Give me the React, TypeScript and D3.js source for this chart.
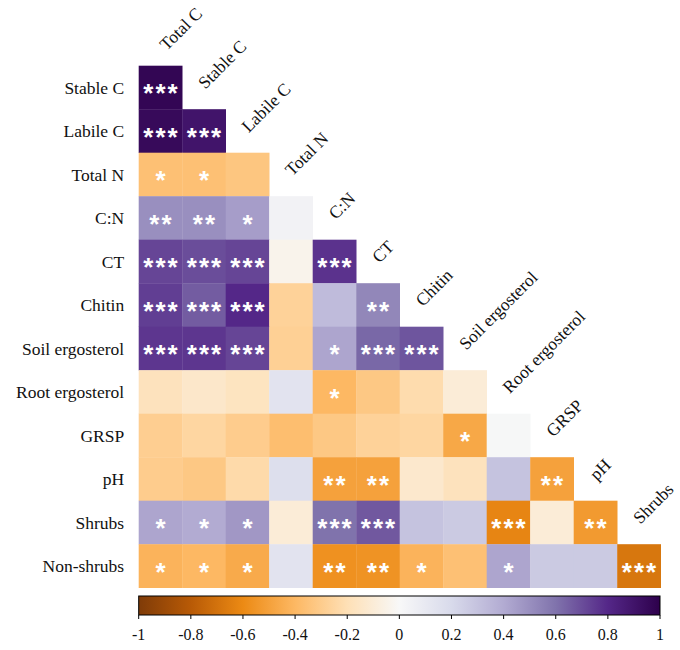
import React from "react";
import * as d3 from "d3";

// Variables of the correlation matrix (lower triangle, diagonal omitted)
const columnVars = [
  "Total C", "Stable C", "Labile C", "Total N", "C:N", "CT", "Chitin",
  "Soil ergosterol", "Root ergosterol", "GRSP", "pH", "Shrubs",
];
const rowVars = [
  "Stable C", "Labile C", "Total N", "C:N", "CT", "Chitin", "Soil ergosterol",
  "Root ergosterol", "GRSP", "pH", "Shrubs", "Non-shrubs",
];

// Pearson r per row, one value per column up to the diagonal
const corrStableC = [0.97];
const corrLabileC = [0.95, 0.9];
const corrTotalN = [-0.36, -0.36, -0.33];
const corrCN = [0.5, 0.5, 0.45, 0.04];
const corrCT = [0.72, 0.7, 0.72, -0.04, 0.77];
const corrChitin = [0.74, 0.66, 0.8, -0.27, 0.33, 0.53];
const corrSoilErg = [0.76, 0.76, 0.72, -0.28, 0.42, 0.63, 0.68];
const corrRootErg = [-0.18, -0.14, -0.17, 0.14, -0.4, -0.32, -0.22, -0.1];
const corrGRSP = [-0.29, -0.25, -0.3, -0.37, -0.32, -0.27, -0.25, -0.47, 0.01];
const corrPH = [-0.3, -0.32, -0.23, 0.17, -0.5, -0.5, -0.13, -0.18, 0.3, -0.5];
const corrShrubs = [0.42, 0.4, 0.47, -0.1, 0.6, 0.67, 0.3, 0.27, -0.62, -0.1, -0.53];
const corrNonShrubs = [-0.42, -0.4, -0.46, 0.14, -0.57, -0.56, -0.42, -0.36, 0.42, 0.27, 0.27, -0.68];

// Significance marks (* p<0.05, ** p<0.01, *** p<0.001)
const sigStableC = ["***"];
const sigLabileC = ["***", "***"];
const sigTotalN = ["*", "*", ""];
const sigCN = ["**", "**", "*", ""];
const sigCT = ["***", "***", "***", "", "***"];
const sigChitin = ["***", "***", "***", "", "", "**"];
const sigSoilErg = ["***", "***", "***", "", "*", "***", "***"];
const sigRootErg = ["", "", "", "", "*", "", "", ""];
const sigGRSP = ["", "", "", "", "", "", "", "*", ""];
const sigPH = ["", "", "", "", "**", "**", "", "", "", "**"];
const sigShrubs = ["*", "*", "*", "", "***", "***", "", "", "***", "", "**"];
const sigNonShrubs = ["*", "*", "*", "", "**", "**", "*", "", "*", "", "", "***"];

const corrRows = [
  corrStableC, corrLabileC, corrTotalN, corrCN, corrCT, corrChitin,
  corrSoilErg, corrRootErg, corrGRSP, corrPH, corrShrubs, corrNonShrubs,
];
const sigRows = [
  sigStableC, sigLabileC, sigTotalN, sigCN, sigCT, sigChitin,
  sigSoilErg, sigRootErg, sigGRSP, sigPH, sigShrubs, sigNonShrubs,
];

// Colour bar ticks
const legendTicks = [-1, -0.8, -0.6, -0.4, -0.2, 0, 0.2, 0.4, 0.6, 0.8, 1];

// Diverging purple-orange palette
const paletteStops = [
  "#7f3b08", "#b85a06", "#ec8a14", "#fdb863", "#fee0b6", "#f8f8f8",
  "#d8daeb", "#b2abd2", "#8073ac", "#542788", "#2d004b",
];

const W = 680;
const H = 650;
const gridLeft = 138.7;
const gridTop = 65.7;
const cell = 43.5;
const serif = "'Liberation Serif', 'Times New Roman', serif";

export default function App() {
  const x = d3
    .scaleBand<string>()
    .domain(columnVars)
    .range([gridLeft, gridLeft + cell * columnVars.length])
    .padding(0);
  const y = d3
    .scaleBand<string>()
    .domain(rowVars)
    .range([gridTop, gridTop + cell * rowVars.length])
    .padding(0);
  const bw = x.bandwidth();
  const bh = y.bandwidth();

  const color = d3
    .scaleLinear<string>()
    .domain(paletteStops.map((_, i) => -1 + (2 * i) / (paletteStops.length - 1)))
    .range(paletteStops)
    .interpolate(d3.interpolateRgb);

  const barLeft = gridLeft;
  const barRight = gridLeft + cell * columnVars.length - 0.7;
  const barTop = 596;
  const barH = 19;
  const lx = d3.scaleLinear().domain([-1, 1]).range([barLeft, barRight]);

  const starSize = 26;

  return (
    <svg
      width={W}
      height={H}
      style={{ position: "absolute", left: 0, top: 0, background: "#fff" }}
      fontFamily={serif}
    >
      <defs>
        <linearGradient id="corrGrad" x1="0" x2="1" y1="0" y2="0">
          {paletteStops.map((c, i) => (
            <stop key={i} offset={`${(i / (paletteStops.length - 1)) * 100}%`} stopColor={c} />
          ))}
        </linearGradient>
      </defs>

      {/* cells */}
      {rowVars.map((rv, i) =>
        corrRows[i].map((v, j) => (
          <rect
            key={`c-${i}-${j}`}
            x={x(columnVars[j])}
            y={y(rv)}
            width={bw + 0.3}
            height={bh + 0.3}
            fill={color(v)}
          />
        ))
      )}

      {/* significance stars */}
      {rowVars.map((rv, i) =>
        sigRows[i].map((s, j) =>
          s ? (
            <text
              key={`s-${i}-${j}`}
              x={(x(columnVars[j]) as number) + bw / 2 + 1}
              y={(y(rv) as number) + bh / 2 + 0.56 * starSize}
              textAnchor="middle"
              fontFamily="'Liberation Sans', Arial, sans-serif"
              fontWeight="bold"
              fontSize={starSize}
              letterSpacing={2}
              fill="#fff"
            >
              {s}
            </text>
          ) : null
        )
      )}

      {/* row labels */}
      {rowVars.map((rv) => (
        <text
          key={`r-${rv}`}
          x={gridLeft - 14.5}
          y={(y(rv) as number) + bh / 2}
          dy="0.35em"
          textAnchor="end"
          fontSize={17.5}
          fill="#111"
        >
          {rv}
        </text>
      ))}

      {/* column labels along the diagonal */}
      {columnVars.map((cv, j) => {
        const nudge = j === 0 ? 5 : 0;
        const cx = (x(cv) as number) + bw / 2 - 3 + nudge;
        const cy = gridTop + (j - 1) * cell + cell / 2 - 2 + nudge;
        return (
          <text
            key={`h-${cv}`}
            transform={`translate(${cx},${cy}) rotate(-45)`}
            dy="0.35em"
            textAnchor="start"
            fontSize={17.5}
            fill="#111"
          >
            {cv}
          </text>
        );
      })}

      {/* colour bar */}
      <rect x={barLeft} y={barTop} width={barRight - barLeft} height={barH} fill="url(#corrGrad)" stroke="#000" strokeWidth={1} />
      {legendTicks.map((t) => (
        <g key={`t-${t}`}>
          <line x1={lx(t)} x2={lx(t)} y1={barTop + barH} y2={barTop + barH + 4} stroke="#000" strokeWidth={1} />
          <text x={lx(t)} y={640} textAnchor="middle" fontSize={16} fill="#111">
            {t === 0 ? "0" : String(t)}
          </text>
        </g>
      ))}
    </svg>
  );
}
